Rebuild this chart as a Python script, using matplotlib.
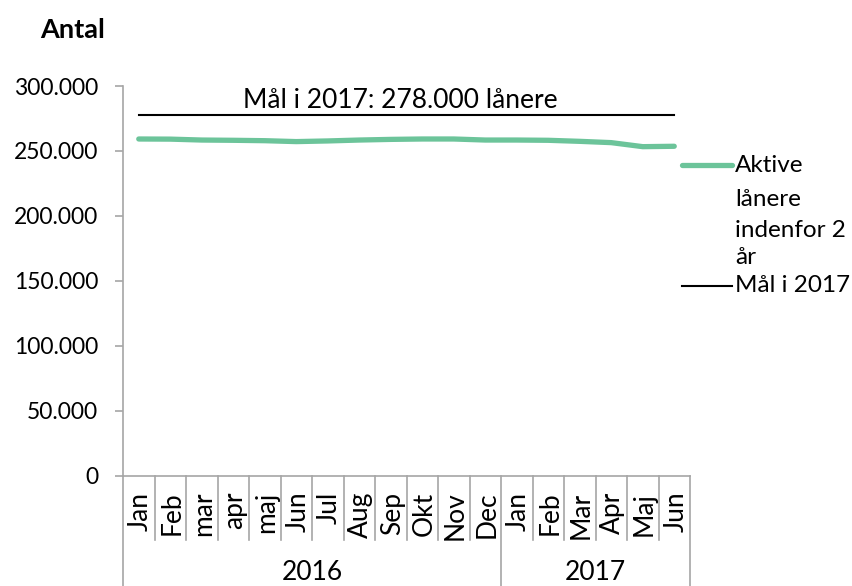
import matplotlib.pyplot as plt
import matplotlib as mpl
from matplotlib.lines import Line2D

mpl.rcParams['font.family'] = ['Lato', 'DejaVu Sans']
mpl.rcParams['font.size'] = 17.5

# data
months = ['Jan', 'Feb', 'mar', 'apr', 'maj', 'Jun', 'Jul', 'Aug', 'Sep', 'Okt', 'Nov', 'Dec',
          'Jan', 'Feb', 'Mar', 'Apr', 'Maj', 'Jun']
years = ['2016', '2017']
months_per_year = [12, 6]
aktive = [259200, 259100, 258400, 258200, 257900, 257200, 257700, 258400, 258900, 259200,
          259200, 258400, 258400, 258200, 257400, 256400, 253300, 253600]
maal = [278000] * len(months)
yticks = [0, 50000, 100000, 150000, 200000, 250000, 300000]

green = '#6cc49a'
grey = '#a6a6a6'

fig = plt.figure(figsize=(8.52, 5.86), dpi=100)
ax = fig.add_axes([123 / 852, 1 - 475.7 / 586, (690 - 123) / 852, (475.7 - 86) / 586])

x = list(range(len(months)))
ax.plot(x, aktive, color=green, lw=3.8, solid_capstyle='round')
ax.plot(x, maal, color='black', lw=1.5)

ax.set_xlim(-0.5, len(months) - 0.5)
ax.set_ylim(0, 300000)
ax.set_yticks(yticks)
ax.set_yticklabels([f'{v:,}'.replace(',', '.') for v in yticks], fontsize=16.5)
ax.tick_params(axis='y', length=6, color=grey, width=1.2, pad=12)
ax.set_xticks([])
for s in ['top', 'right']:
    ax.spines[s].set_visible(False)
for s in ['left', 'bottom']:
    ax.spines[s].set_color(grey)
    ax.spines[s].set_linewidth(1.2)

# multi-level category axis
trans = ax.get_xaxis_transform()
h = 475.7 - 86
mon_bottom = -(540 - 475.7) / h
yr_bottom = -(586 - 475.7) / h
for i, m in enumerate(months):
    ax.text(i + 0.05, -16 / h, m, rotation=90, ha='center', va='top', transform=trans,
            fontsize=19)
bounds = [0]
for n in months_per_year:
    bounds.append(bounds[-1] + n)
for i in range(len(months) + 1):
    b = i - 0.5
    bottom = yr_bottom if i in bounds else mon_bottom
    ax.add_line(Line2D([b, b], [0, bottom], transform=trans, color=grey, lw=1.2, clip_on=False))
for k, yr in enumerate(years):
    mid = (bounds[k] + bounds[k + 1]) / 2 - 0.5
    ax.text(mid, -(573 - 475.7) / h, yr, ha='center', va='center', transform=trans, fontsize=19)

ax.text(8.3, 289000, 'Mål i 2017: 278.000 lånere', ha='center', va='center', fontsize=19)
fig.text(40 / 852, 1 - 30 / 586, 'Antal', fontweight='bold', ha='left', va='center', fontsize=19.5)

# legend
fig.add_artist(Line2D([682 / 852, 732 / 852], [1 - 165 / 586] * 2, color=green, lw=3.8,
                      solid_capstyle='round'))
fig.text(735 / 852, 1 - 165 / 586, 'Aktive', va='center')
fig.text(735 / 852, 1 - 200 / 586, 'lånere', va='center')
fig.text(735 / 852, 1 - 230 / 586, 'indenfor 2', va='center')
fig.text(735 / 852, 1 - 258 / 586, 'år', va='center')
fig.add_artist(Line2D([682 / 852, 732 / 852], [1 - 286 / 586] * 2, color='black', lw=1.5))
fig.text(735 / 852, 1 - 286 / 586, 'Mål i 2017', va='center')

plt.savefig('out.png', dpi=100)
